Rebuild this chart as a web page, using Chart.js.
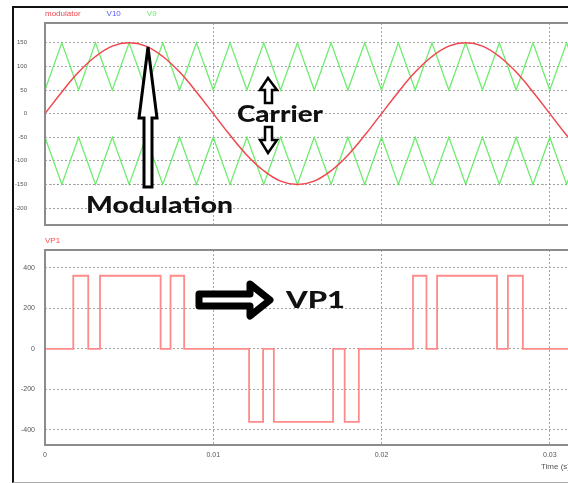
<!DOCTYPE html>
<html>
<head>
<meta charset="utf-8">
<script src="https://cdn.jsdelivr.net/npm/chart.js@4.4.1/dist/chart.umd.min.js"></script>
<style>
  html, body { margin: 0; padding: 0; background: #fff; overflow: hidden; }
  #page { position: relative; width: 568px; height: 483px; overflow: hidden; }
  #border { position: absolute; left: 12px; top: 6px; width: 600px; height: 474px;
            border-left: 2px solid #111; border-top: 2px solid #111; border-bottom: 1px solid #aaa; }
  canvas { position: absolute; left: 0; }
  #top { top: 0; }
  #bottom { top: 230px; }
  #notes { position: absolute; left: 0; top: 0; }
  #notes text { font-family: Lato, "Liberation Sans", sans-serif; font-weight: 900; fill: #111; }
</style>
</head>
<body>
<div id="page">
  <div id="border"></div>
  <canvas id="top" width="590" height="230"></canvas>
  <canvas id="bottom" width="590" height="253"></canvas>
  <svg id="notes" width="568" height="483">
    <polygon points="148,47 157,118 152,118 152,187 144,187 144,118 139,118"
             fill="#fff" stroke="#000" stroke-width="3"/>
    <text x="86" y="213" font-size="22" textLength="147" lengthAdjust="spacingAndGlyphs">Modulation</text>

    <polygon points="268,78 277,90 272,90 272,103 265,103 265,90 260,90"
             fill="#fff" stroke="#000" stroke-width="2.5"/>
    <text x="237" y="122" font-size="22" textLength="86" lengthAdjust="spacingAndGlyphs">Carrier</text>
    <polygon points="265,127 272,127 272,140 277,140 268,153 260,140 265,140"
             fill="#fff" stroke="#000" stroke-width="2.5"/>

    <polygon points="199,294 250,294 250,284 270,300 250,316 250,306 199,306"
             fill="#fff" stroke="#000" stroke-width="7" stroke-linejoin="round"/>
    <text x="286" y="308" font-size="23" textLength="59" lengthAdjust="spacingAndGlyphs">VP1</text>
  </svg>
</div>

<script>
// time axis (s)
const timeTicks = [0, 0.01, 0.02, 0.03];
const timeMax = 0.0312;

// upper plot: modulating sine and the two triangle carriers
const sampleT = [0, 0.001, 0.002, 0.003, 0.004, 0.005, 0.006, 0.007, 0.008, 0.009,
                 0.010, 0.011, 0.012, 0.013, 0.014, 0.015, 0.016, 0.017, 0.018, 0.019,
                 0.020, 0.021, 0.022, 0.023, 0.024, 0.025, 0.026, 0.027, 0.028, 0.029,
                 0.030, 0.031, 0.032];
const modulator = [0, 46, 88, 121, 143, 150, 143, 121, 88, 46,
                   0, -46, -88, -121, -143, -150, -143, -121, -88, -46,
                   0, 46, 88, 121, 143, 150, 143, 121, 88, 46,
                   0, -46, -88];
const carrierUpper = [50, 150, 50, 150, 50, 150, 50, 150, 50, 150,
                      50, 150, 50, 150, 50, 150, 50, 150, 50, 150,
                      50, 150, 50, 150, 50, 150, 50, 150, 50, 150,
                      50, 150, 50];
const carrierLower = [-50, -150, -50, -150, -50, -150, -50, -150, -50, -150,
                      -50, -150, -50, -150, -50, -150, -50, -150, -50, -150,
                      -50, -150, -50, -150, -50, -150, -50, -150, -50, -150,
                      -50, -150, -50];
const v10T = [0, 0.03];
const v10 = [-150, -150];
const yTicksTop = [-200, -150, -100, -50, 0, 50, 100, 150];

// lower plot: VP1 output (switching instants and levels)
const vp1T = [0, 0.00168, 0.00257, 0.00327, 0.00687, 0.00746, 0.00827,
              0.01213, 0.01296, 0.0136, 0.01712, 0.01781, 0.01865,
              0.02187, 0.02267, 0.0233, 0.02686, 0.02751, 0.0284, 0.0316];
const vp1 = [0, 360, 0, 360, 0, 360, 0,
             -360, 0, -360, 0, -360, 0,
             360, 0, 360, 0, 360, 0, 0];
const yTicksBottom = [-400, -200, 0, 200, 400];

const pts = (xs, ys) => xs.map((x, i) => ({x: x, y: ys[i]}));

const gridColor = '#a4a4a4';

// series names written in colour above the plot, like the simulator does
const seriesNames = {
  id: 'seriesNames',
  afterDraw(chart) {
    const {ctx, chartArea} = chart;
    let x = chartArea.left;
    ctx.save();
    ctx.font = '8px "Liberation Sans", Arial, sans-serif';
    ctx.textBaseline = 'middle';
    chart.data.datasets.forEach(ds => {
      ctx.fillStyle = ds.labelColor || ds.borderColor;
      ctx.fillText(ds.label, x, chartArea.top - 9);
      x += ctx.measureText(ds.label).width + 26;
    });
    ctx.restore();
  }
};

const frame = {
  id: 'frame',
  afterDraw(chart) {
    const {ctx, chartArea: a} = chart;
    ctx.save();
    ctx.strokeStyle = '#8c8c8c';
    ctx.lineWidth = 2;
    ctx.strokeRect(a.left, a.top, a.right - a.left, a.bottom - a.top);
    ctx.restore();
  }
};

function timeScale(withLabels) {
  return {
    type: 'linear',
    min: 0,
    max: timeMax,
    afterBuildTicks: s => { s.ticks = timeTicks.map(v => ({value: v})); },
    afterFit: s => { s.height = withLabels ? 38 : 0; },
    grid: { color: gridColor, drawTicks: false },
    border: { display: false, dash: [2, 2] },
    ticks: {
      display: withLabels,
      padding: 6,
      color: '#555',
      font: { size: 7 },
      maxRotation: 0,
      callback: v => String(v)
    },
    title: {
      display: withLabels,
      text: 'Time (s)',
      align: 'end',
      color: '#555',
      font: { size: 8 },
      padding: { top: 0, bottom: 11 }
    }
  };
}

function valueScale(min, max, ticks, pad, size) {
  return {
    min: min,
    max: max,
    afterBuildTicks: s => { s.ticks = ticks.map(v => ({value: v})); },
    afterFit: s => { s.width = 32; s.paddingTop = 0; s.paddingBottom = 0; },
    grid: { color: gridColor, drawTicks: false },
    border: { display: false, dash: [2, 2] },
    ticks: { padding: pad, color: '#555', font: { size: size }, callback: v => String(v) }
  };
}

new Chart(document.getElementById('top'), {
  type: 'line',
  data: {
    datasets: [
      {
        label: 'modulator',
        data: pts(sampleT, modulator),
        borderColor: '#f0464e',
        borderWidth: 1.5,
        pointRadius: 0,
        tension: 0.4
      },
      {
        label: 'V10',
        data: pts(v10T, v10),
        borderColor: 'rgba(90,90,230,0.55)',
        labelColor: '#5a5aff',
        borderWidth: 1,
        borderDash: [1, 5],
        pointRadius: 0
      },
      {
        label: 'V9',
        data: pts(sampleT, carrierUpper).concat([{x: 0.032, y: null}], pts(sampleT, carrierLower)),
        borderColor: '#6eec6e',
        borderWidth: 1.3,
        pointRadius: 0,
        spanGaps: false
      }
    ]
  },
  options: {
    responsive: false,
    animation: false,
    devicePixelRatio: 1,
    layout: { padding: { left: 13, top: 23, right: 20, bottom: 5 } },
    plugins: { legend: { display: false }, tooltip: { enabled: false } },
    scales: {
      x: timeScale(false),
      y: valueScale(-236, 192, yTicksTop, 18, 6)
    }
  },
  plugins: [seriesNames, frame]
});

new Chart(document.getElementById('bottom'), {
  type: 'line',
  data: {
    datasets: [
      {
        label: 'VP1',
        data: pts(vp1T, vp1),
        borderColor: '#ff8a8a',
        labelColor: '#ff4a4a',
        borderWidth: 1.8,
        pointRadius: 0,
        stepped: true
      }
    ]
  },
  options: {
    responsive: false,
    animation: false,
    devicePixelRatio: 1,
    layout: { padding: { left: 13, top: 20, right: 20, bottom: 0 } },
    plugins: { legend: { display: false }, tooltip: { enabled: false } },
    scales: {
      x: timeScale(true),
      y: valueScale(-474, 487, yTicksBottom, 10, 7)
    }
  },
  plugins: [seriesNames, frame]
});
</script>
</body>
</html>
